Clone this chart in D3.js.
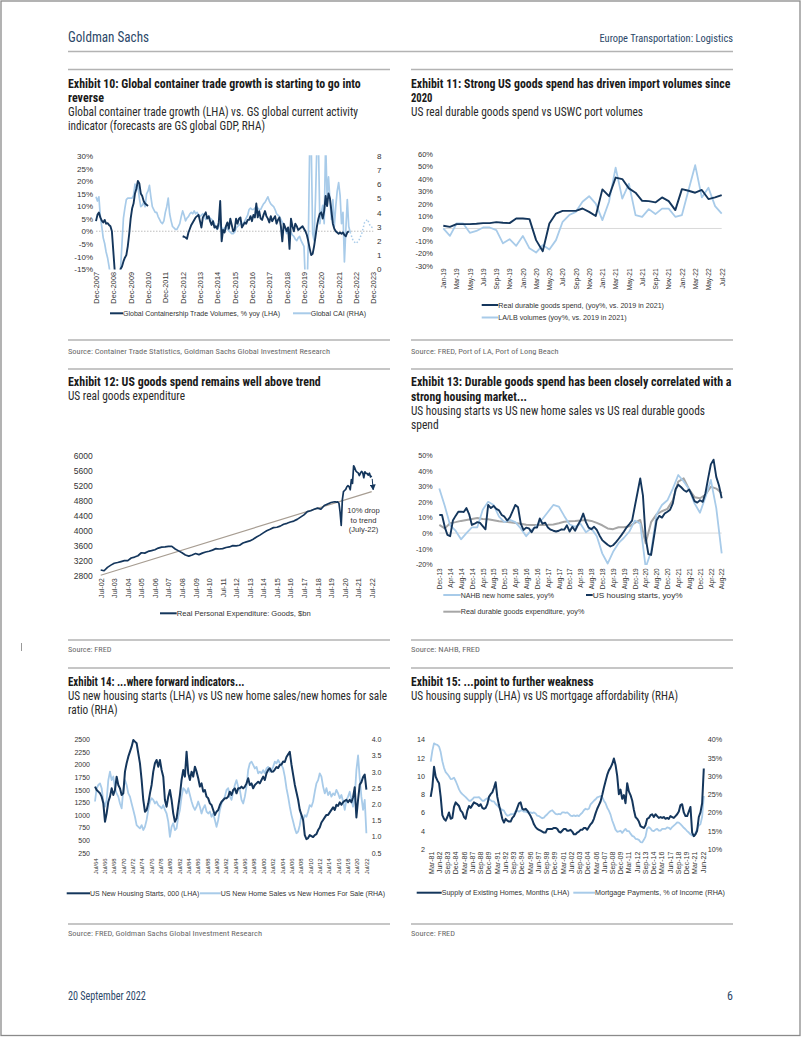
<!DOCTYPE html>
<html><head><meta charset="utf-8">
<script src="https://cdnjs.cloudflare.com/ajax/libs/d3/7.8.5/d3.min.js"></script>
<style>html,body{margin:0;padding:0;background:#fff;}svg{display:block;}</style>
</head><body>
<svg id="page" width="802" height="1037"></svg>
<script>
// ---------------- DATA ----------------
// Exhibit 10 (monthly from Dec-2007)
const c10Ticks = ["Dec-2007","Dec-2008","Dec-2009","Dec-2010","Dec-2011","Dec-2012","Dec-2013","Dec-2014","Dec-2015","Dec-2016","Dec-2017","Dec-2018","Dec-2019","Dec-2020","Dec-2021","Dec-2022","Dec-2023"];
const c10Start = "2007-12";
const c10Trade = [4.0,6.5,7.4,5.5,4.2,3.5,4.5,3.0,3.2,2.5,
 2.0,0,-8,-16,-22,-24,-20,-15,-14,-12,
 -10.5,-9.5,-6,-1,5,9,11,15,17,20,
 19,15,14,12,11,10.5,10,
 null,null,null,null,null,null,null,null,null,null,null,null,null,null,null,null,null,null,null,null,null,null,null,
 -2.0,-2.2,-2.5,-3.0,-0.5,1.0,2.5,3.5,4.5,5.5,
 6.0,6.5,4.0,1.5,5.5,6.5,7.5,5.0,6.0,4.0,
 2.5,4.0,1.5,2.0,1.0,3.5,12.0,-4.0,0.5,-0.5,
 2.0,3.5,1.0,5.0,2.5,0,0.5,5.0,3.0,5.0,
 5.5,1.5,2.5,3.5,3.0,4.5,4.5,6.0,4.0,6.5,
 5.5,11.0,5.5,8.0,5.0,4.5,6.5,8.0,6.0,5.0,
 3.5,6.0,4.0,5.0,6.0,3.0,4.5,5.5,2.0,-4.0,
 3.0,1.5,0,1.5,-7.0,5.0,2.0,0,3.0,2.0,
 0.5,1.0,1.5,2.0,1.0,0,-1.5,-4.0,-7.0,-9.5,
 -9.0,-6.0,-2.0,2.0,5.0,7.0,7.5,5.0,8.0,14.0,
 10.0,15.0,13.0,8.0,3.0,1.0,0,-0.5,-1.0,-0.5,
 -1.0,-0.5,-1.5,-2.0,-0.5,0.0];
const c10Cai = [5.1,4.8,5.1,3.7,3.0,2.2,1.8,1.2,0.8,0.2,
 -0.5,-1.5,-1.5,-1.5,-1.5,-1.5,-1.0,0.0,1.8,3.6,
 4.3,4.9,5.0,5.0,5.0,5.0,5.2,6.0,5.6,5.9,
 5.0,4.4,4.5,4.7,4.4,5.3,5.5,5.9,5.1,4.4,
 4.2,4.0,4.0,3.7,3.5,3.3,3.2,3.4,4.0,4.4,
 5.0,3.9,3.4,3.0,2.9,2.8,2.8,3.0,3.2,3.7,
 4.1,3.8,3.4,3.6,3.7,3.9,4.0,3.9,4.1,3.9,
 4.0,3.8,3.7,3.8,3.9,3.7,3.5,3.6,3.7,3.6,
 3.5,3.4,3.2,2.9,2.8,3.0,3.2,2.9,2.8,2.9,
 3.0,2.8,2.7,2.6,2.5,2.5,2.6,2.9,3.0,3.1,
 3.2,3.2,3.2,3.4,3.6,3.8,4.2,4.3,4.2,4.2,
 4.3,4.4,4.3,4.2,4.2,4.4,4.6,4.7,4.9,5.1,
 4.8,4.6,4.5,4.4,4.2,3.9,3.8,3.7,3.5,3.3,
 3.1,2.8,2.5,2.7,2.8,2.6,2.4,2.3,2.1,2.0,
 2.2,2.3,2.0,1.8,1.6,-1.0,-2.0,2.0,9.0,9.0,
 2.5,2.0,5.0,9.0,9.0,3.2,4.0,4.5,3.2,9.0,
 5.1,6.5,4.8,3.5,4.9,3.0,4.4,5.5,6.1,5.2,
 3.2,4.0,0.5,2.8,4.9,3.0,2.6];
const c10ForecastStart = "2022-08"; // every 2 months (GS global GDP forecast)
const c10Forecast = [2.6,2.0,1.8,2.0,2.5,3.3,3.5,3.0,2.9];

// Exhibit 11 (monthly from Jan-19)
const c11Ticks = ["Jan-19","Mar-19","May-19","Jul-19","Sep-19","Nov-19","Jan-20","Mar-20","May-20","Jul-20","Sep-20","Nov-20","Jan-21","Mar-21","May-21","Jul-21","Sep-21","Nov-21","Jan-22","Mar-22","May-22","Jul-22"];
const c11Start = "2019-01";
const c11Durable = [2.2,1.3,3.5,3.5,3.5,3.8,4.3,4.3,5.1,4.6,4.3,8,8,7.5,-9.4,-18.3,4,12,14.2,14.2,14.2,16.1,13.4,10,31.5,26,41,39.8,32.3,28.8,22.3,22,21,25,22,14.8,31.7,30.4,28.8,31,23.7,25,26.9];
const c11Ports = [0,-6,4,4,-3.5,-2,0.8,0.8,-1.3,-12,-8.6,-14,-6,-16,-19.4,-13.4,-17,-9.4,5.4,10.8,13.4,21.5,26,20,6.7,21.5,49,24,36,10.8,9.4,15.6,11.6,16,16,9.4,10.8,31,51,25,32.8,18,12];

// Exhibit 12 (quarterly from Jul-02, then monthly from Oct-19)
const c12Ticks = ["Jul-02","Jul-03","Jul-04","Jul-05","Jul-06","Jul-07","Jul-08","Jul-09","Jul-10","Jul-11","Jul-12","Jul-13","Jul-14","Jul-15","Jul-16","Jul-17","Jul-18","Jul-19","Jul-20","Jul-21","Jul-22"];
const c12QStart = "2002-07";
const c12Quarterly = [2960,2940,3030,3090,3140,3160,3185,3210,3210,3280,
 3305,3340,3420,3410,3455,3475,3500,3545,3570,3575,
 3590,3590,3520,3470,3420,3360,3330,3360,3400,3370,
 3410,3440,3460,3490,3530,3520,3530,3560,3575,3610,
 3605,3620,3680,3710,3735,3780,3840,3890,3950,4005,
 4045,4090,4100,4130,4180,4205,4240,4265,4310,4370,
 4430,4515,4540,4580,4610,4580,4680,4720,4760];
const c12MStart = "2019-10";
const c12Monthly = [4780,4775,4770,4775,4740,4500,4150,4830,5050,5080,5110,5180,5210,5180,5100,5370,5270,5740,5680,5600,5570,5550,5480,5540,5590,5560,5420,5580,5540,5530,5490,5540,5440,5470];
const c12TrendDates = ["2002-07","2022-07"];
const c12TrendVals = [2820,5050];
const c12ArrowVals = [5390,5100];
const c12Note = ["10% drop","to trend","(July-22)"];

// Exhibit 13 (from Dec-13; starts monthly, others every 2 months)
const c13Ticks = ["Dec-13","Apr-14","Aug-14","Dec-14","Apr-15","Aug-15","Dec-15","Apr-16","Aug-16","Dec-16","Apr-17","Aug-17","Dec-17","Apr-18","Aug-18","Dec-18","Apr-19","Aug-19","Dec-19","Apr-20","Aug-20","Dec-20","Apr-21","Aug-21","Dec-21","Apr-22","Aug-22"];
const c13Start = "2013-12";
const c13Starts = [11.6,11.6,4,-1.2,-2,8,11,13.7,13.7,13.5,
 16,12,5.2,6,7,6.5,4.5,2.4,18,16,
 17.4,15.5,14.5,11.6,10.5,8,10,14,18,16.5,
 6,2,3.5,3,0.5,3.5,3.5,9.4,6,6.7,
 3.5,2.2,1.5,1,1.5,2.4,2.2,5,1,4,
 1.5,5,8,12.5,7,3.5,2.5,4,2,-1.5,
 -4.5,-6,-7.5,-8.6,-7.8,-6,-3.8,-1.5,1,3.7,
 5.8,8,17,26,35,24,-3,-13.5,-14,-3,
 8,11,9.9,12.5,13.7,15,19,28,31,29.5,
 27.6,26.5,27.9,24.5,20.5,19.5,21,20,25.5,35,
 44,47,36,30.5,22.3];
const c13Sales = [28.6,17.5,5,1.5,-4,0,3.7,3.7,15,20,
 18,10.5,7,8.4,7,3,-2,2,5,9,
 13.5,18,17,11,5.5,4,6,0.5,3,-2,
 -13,-19.5,-12,-6.5,-3,1,8,6,-22,-12,
 12,18,21,28.5,37.2,33,28,19,13,23,
 34,16,-13];
const c13Durable = [5.2,3,6.3,7,7.8,8.4,9,9.7,9,8.8,
 8.2,7.6,7.2,6.9,6.4,6,5.3,5.2,5.2,5.2,
 5.3,5.5,6.3,7.2,7.5,7.7,8,8.3,7.8,6.5,
 5,3,2.5,3.7,3.7,4.3,6.5,8.4,-6.5,7,
 12,14,15.5,21,33,35,28,23,22.3,24.5,
 29.7,28.5,25.5];

// Exhibit 14 (evenly sampled Jul-64 .. Aug-22)
const c14Ticks = ["Jul/64","Jul/66","Jul/68","Jul/70","Jul/72","Jul/74","Jul/76","Jul/78","Jul/80","Jul/82","Jul/84","Jul/86","Jul/88","Jul/90","Jul/92","Jul/94","Jul/96","Jul/98","Jul/00","Jul/02","Jul/04","Jul/06","Jul/08","Jul/10","Jul/12","Jul/14","Jul/16","Jul/18","Jul/20","Jul/22"];
const c14Period = ["1964-07","2022-08"];
const c14Starts = [1560,1494,1461,1428,1362,1229,865,1031,1262,1362,
 1527,1395,1494,1759,1594,1527,1395,1428,1858,2024,
 2156,2255,2354,2487,2454,2421,2222,2024,1693,1296,
 1064,1097,1229,1428,1594,1858,2024,2090,1957,2090,
 1891,1759,1296,1163,1362,1494,1296,1031,865,932,
 1163,1395,1693,1891,1759,2255,1825,1693,1858,1759,
 1957,1858,1726,1560,1626,1461,1494,1362,1329,1229,
 1196,1097,998,1064,1097,1196,1262,1296,1329,1329,
 1362,1461,1395,1494,1527,1428,1527,1527,1560,1527,
 1560,1626,1726,1594,1626,1527,1594,1626,1659,1626,
 1693,1759,1693,1825,1891,1924,1858,1860,1900,1950,
 1930,1990,2000,2060,2050,2150,2200,2250,2000,1800,
 1600,1450,1300,1100,1000,900,600,520,540,600,
 580,560,600,620,700,750,850,900,950,1000,
 1000,1050,1100,1150,1100,1200,1180,1250,1200,1250,
 1280,1300,1250,1300,1250,1350,1550,950,1300,1600,
 1650,1750,1800,1500];
const c14Ratio = [2.08,2.49,2.59,2.64,2.49,2.08,1.92,2.13,2.74,3.0,
 2.74,2.85,2.49,2.33,2.23,2.02,1.87,2.44,2.74,2.59,
 2.33,2.23,2.02,1.82,1.61,1.35,1.30,1.25,1.35,1.2,
 1.3,1.51,1.82,2.08,2.18,2.13,2.02,2.08,1.97,1.92,
 1.87,1.97,1.82,1.71,1.46,0.99,1.3,1.41,1.2,1.25,
 1.61,1.82,2.23,2.49,2.44,2.33,2.49,2.28,2.08,1.92,
 1.82,1.92,2.08,1.92,1.71,1.87,1.97,1.77,1.71,1.77,
 1.61,1.71,1.51,1.3,1.51,1.82,2.02,2.13,2.23,2.44,
 2.49,2.23,2.13,2.38,2.59,2.74,2.54,2.44,2.13,2.02,
 2.23,2.54,3.05,3.26,3.31,3.21,3.1,3.15,2.95,3.0,
 2.95,3.05,2.95,3.1,3.15,3.0,3.05,3.15,3.31,3.26,
 3.36,3.26,3.21,3.1,2.85,2.49,2.23,1.92,1.66,1.46,
 1.25,1.1,1.15,1.35,1.66,1.51,1.66,1.61,1.77,1.97,
 1.92,2.08,2.38,2.64,2.74,2.95,2.85,2.54,2.33,2.49,
 2.28,2.38,2.23,2.33,2.28,2.44,2.33,2.18,2.28,2.08,
 1.82,2.13,2.23,2.38,2.13,1.92,2.23,3.05,3.5,2.8,
 2.23,1.82,2.13,1.1];

// Exhibit 15 (evenly sampled Mar-81 .. Aug-22)
const c15Ticks = ["Mar-81","Jun-82","Sep-83","Dec-84","Mar-86","Jun-87","Sep-88","Dec-89","Mar-91","Jun-92","Sep-93","Dec-94","Mar-96","Jun-97","Sep-98","Dec-99","Mar-01","Jun-02","Sep-03","Dec-04","Mar-06","Jun-07","Sep-08","Dec-09","Mar-11","Jun-12","Sep-13","Dec-14","Mar-16","Jun-17","Sep-18","Dec-19","Mar-21","Jun-22"];
const c15Period = ["1981-03","2022-08"];
const c15Supply = [7.7,8.8,11.0,9.9,9.5,9.2,7.7,5.7,5.3,5.1,
 5.5,6.0,5.3,5.4,6.6,7.1,6.9,6.7,6.2,6.0,
 5.5,5.3,6.2,6.7,6.5,6.8,7.1,7.0,6.9,6.7,
 6.9,6.5,6.4,6.5,6.9,7.7,8.0,8.2,8.7,9.3,
 7.7,6.8,6.1,5.3,4.9,5.3,5.1,5.0,5.0,5.4,
 5.6,6.0,6.5,7.0,7.1,6.4,6.3,6.4,6.2,5.9,
 5.6,5.2,4.7,4.4,4.2,4.1,4.0,3.9,3.8,3.8,
 4.2,4.2,4.2,4.2,4.3,4.3,4.2,3.9,3.8,4.0,
 4.2,4.2,4.0,4.0,4.1,3.9,3.6,3.6,3.8,3.9,
 4.1,4.1,4.3,4.3,4.1,4.4,4.7,4.9,5.3,5.9,
 6.4,6.8,7.2,7.9,8.7,9.4,10.1,10.6,10.9,11.3,
 11.9,11.2,10.0,8.0,8.5,7.5,7.9,7.0,9.2,8.3,
 7.9,7.3,6.3,5.5,5.3,5.0,4.5,4.4,4.3,4.6,
 5.3,5.4,5.7,5.8,5.5,5.8,5.6,5.4,5.5,5.4,
 5.5,5.3,5.4,5.3,5.6,5.5,5.4,5.6,5.8,6.1,
 6.8,6.9,6.0,5.6,5.6,6.1,6.6,3.8,3.4,3.6,
 4.0,5.5,6.0,7.0,10.8];
const c15Mortgage = [33.9,36.9,38.9,38.6,38.5,38.0,36.5,34.0,32.2,31.0,
 30.5,29.9,29.1,29.2,29.5,28.6,27.5,26.3,25.5,25.0,
 24.6,24.2,23.7,23.2,23.2,23.6,24.1,24.1,24.1,24.2,
 23.7,23.2,23.2,23.6,23.9,23.7,23.3,23.0,23.0,22.3,
 21.9,21.4,21.0,20.7,20.5,19.6,19.1,19.2,19.5,19.5,
 19.6,20.3,20.5,20.2,20.5,20.6,20.2,20.2,20.0,20.0,
 20.0,19.8,20.0,19.7,19.1,19.0,18.7,18.4,18.6,19.1,
 19.5,20.0,20.4,20.6,20.1,19.6,19.5,19.6,19.5,20.0,
 20.0,19.9,20.0,19.6,19.1,19.0,19.2,19.0,19.2,19.0,
 19.5,19.9,20.6,21.0,20.8,21.0,22.2,22.7,23.2,23.6,
 24.1,24.3,24.5,24.2,23.2,22.5,21.3,20.5,19.4,17.8,
 16.6,15.3,14.7,14.8,15.0,14.4,15.0,15.5,14.9,14.9,
 14.2,13.6,13.4,12.8,12.7,12.5,11.9,11.8,12.5,13.4,
 15.6,16.0,15.6,15.0,14.9,15.3,15.5,15.0,15.0,15.5,
 15.5,15.5,15.9,15.8,15.4,16.0,16.4,16.8,17.3,17.2,
 16.8,16.3,15.8,15.4,14.9,14.5,14.0,13.7,13.6,14.5,
 15.5,16.4,16.8,18.8,24.5];

// ---------------- HELPERS ----------------
const NARROW = "'Liberation Sans Narrow','Arial Narrow','Roboto Condensed','DejaVu Sans Condensed',sans-serif";
const SANS = "'Liberation Sans',Arial,sans-serif";
const DARK = "#14365c", LIGHT = "#a8cbe9", GRAY = "#a6a6a6", TREND = "#a79d92", HDR = "#2c4869", AXC = "#333", RULE = "#b3b3b3";
const MON = ["Jan","Feb","Mar","Apr","May","Jun","Jul","Aug","Sep","Oct","Nov","Dec"];
const svg = d3.select("#page");
const defs = svg.append("defs");

const ym = s => { const [y, m] = s.split("-").map(Number); return y + (m - 1) / 12; };
const labT = s => { const [m, y] = s.split(/[-\/]/); let yr = +y; if (y.length === 2) yr = yr > 30 ? 1900 + yr : 2000 + yr; return yr + MON.indexOf(m) / 12; };
const monthly = (start, n, step = 1) => d3.range(n).map(i => ym(start) + i * step / 12);
const even = (period, n) => { const a = ym(period[0]), b = ym(period[1]); return d3.range(n).map(i => a + i * (b - a) / (n - 1)); };

function T(x, y, s, o = {}) {
  const t = svg.append("text").attr("x", x).attr("y", y).text(s)
    .attr("font-family", o.ff || NARROW).attr("font-size", o.fs || 12)
    .attr("fill", o.fill || "#1c1c1c").attr("font-weight", o.fw || "normal");
  if (o.anchor) t.attr("text-anchor", o.anchor);
  if (o.w) t.attr("textLength", o.w).attr("lengthAdjust", "spacingAndGlyphs");
  return t;
}
function rule(x1, x2, y) {
  svg.append("line").attr("x1", x1).attr("x2", x2).attr("y1", y).attr("y2", y).attr("stroke", RULE).attr("stroke-width", 1.5);
}
function clip(id, x0, y0, x1, y1) {
  defs.append("clipPath").attr("id", id).append("rect").attr("x", x0).attr("y", y0).attr("width", x1 - x0).attr("height", y1 - y0);
}
function yAxis(scale, x, ticks, fmt, side, fs) {
  const ax = (side === "left" ? d3.axisLeft(scale) : d3.axisRight(scale)).tickValues(ticks).tickFormat(fmt).tickSize(0).tickPadding(0);
  const g = svg.append("g").attr("transform", `translate(${x},0)`).call(ax);
  g.select(".domain").remove();
  g.selectAll("text").attr("font-family", SANS).attr("font-size", fs).attr("fill", AXC).attr("dy", "0.34em");
}
function xLabels(scale, labels, top, fs) {
  const vals = labels.map(labT);
  const ax = d3.axisBottom(scale).tickValues(vals).tickFormat((d, i) => labels[i]).tickSize(0).tickPadding(0);
  const g = svg.append("g").attr("transform", `translate(0,${top})`).call(ax);
  g.select(".domain").remove();
  g.selectAll("text").attr("transform", "rotate(-90)").attr("text-anchor", "end").attr("x", 0).attr("y", 0).attr("dy", "0.35em")
    .attr("font-family", SANS).attr("font-size", fs).attr("fill", AXC);
}
function plot(xs, vs, xS, yS, color, w, clipId, dash) {
  const data = xs.map((x, i) => ({ x, v: vs[i] }));
  const p = svg.append("path").datum(data).attr("fill", "none").attr("stroke", color).attr("stroke-width", w)
    .attr("stroke-linejoin", "round").attr("stroke-linecap", "butt")
    .attr("d", d3.line().defined(d => d.v != null).x(d => xS(d.x)).y(d => yS(d.v)));
  if (clipId) p.attr("clip-path", `url(#${clipId})`);
  if (dash) p.attr("stroke-dasharray", dash);
}
function hline(xS, yS, v, color, dash) {
  const [a, b] = xS.range();
  const l = svg.append("line").attr("x1", a).attr("x2", b).attr("y1", yS(v)).attr("y2", yS(v)).attr("stroke", color).attr("stroke-width", 1);
  if (dash) l.attr("stroke-dasharray", dash);
}
function legend(x0, x1, y, color, label, w, fs = 7.5) {
  svg.append("line").attr("x1", x0).attr("x2", x1).attr("y1", y).attr("y2", y).attr("stroke", color).attr("stroke-width", 2);
  T(x1, y + fs * 0.35, label, { ff: SANS, fs, fill: "#333", w });
}

// ---------------- PAGE ----------------
svg.append("rect").attr("x", 1).attr("y", 1).attr("width", 799).attr("height", 1034.5).attr("fill", "none").attr("stroke", "#8a8a8a").attr("stroke-width", 1.3);
T(68, 41.6, "Goldman Sachs", { fs: 14.5, fill: HDR, w: 81 });
T(733, 42, "Europe Transportation: Logistics", { fs: 11, fill: HDR, anchor: "end", w: 133.5 });
rule(68, 733, 51.5);
[69.5, 340, 369, 640, 668, 924].forEach(y => { rule(68, 390, y); rule(411, 733, y); });
svg.append("line").attr("x1", 21.5).attr("x2", 21.5).attr("y1", 643).attr("y2", 651).attr("stroke", "#999").attr("stroke-width", 1);

const TB = { fs: 12.5, fw: "bold", fill: "#1a1a1a" }, ST = { fs: 12, fill: "#2a2a2a" }, SR = { fs: 7.8, fill: "#6a6a6a" };
T(68, 88.3, "Exhibit 10: Global container trade growth is starting to go into", { ...TB, w: 292.6 });
T(68, 102.3, "reverse", { ...TB, w: 36 });
T(68, 115.8, "Global container trade growth (LHA) vs. GS global current activity", { ...ST, w: 290 });
T(68, 130, "indicator (forecasts are GS global GDP, RHA)", { ...ST, w: 197 });
T(411, 88.3, "Exhibit 11: Strong US goods spend has driven import volumes since", { ...TB, w: 319.3 });
T(411, 102.3, "2020", { ...TB, w: 21.5 });
T(411, 115.8, "US real durable goods spend vs USWC port volumes", { ...ST, w: 232 });
T(68, 353.5, "Source: Container Trade Statistics, Goldman Sachs Global Investment Research", { ...SR, w: 262 });
T(411, 353.5, "Source: FRED, Port of LA, Port of Long Beach", { ...SR, w: 147.6 });
T(68, 386.3, "Exhibit 12: US goods spend remains well above trend", { ...TB, w: 252.7 });
T(68, 400, "US real goods expenditure", { ...ST, w: 117 });
T(411, 386.3, "Exhibit 13: Durable goods spend has been closely correlated with a", { ...TB, w: 320.5 });
T(411, 400.6, "strong housing market...", { ...TB, w: 116 });
T(411, 415.2, "US housing starts vs US new home sales vs US real durable goods", { ...ST, w: 294 });
T(411, 428.8, "spend", { ...ST, w: 27.6 });
T(68, 651.8, "Source: FRED", { ...SR, w: 43.5 });
T(411, 651.8, "Source: NAHB, FRED", { ...SR, w: 69 });
T(68, 686.3, "Exhibit 14: ...where forward indicators...", { ...TB, w: 176.5 });
T(68, 700.2, "US new housing starts (LHA) vs US new home sales/new homes for sale", { ...ST, w: 319 });
T(68, 713.8, "ratio (RHA)", { ...ST, w: 49.6 });
T(411, 686.3, "Exhibit 15: ...point to further weakness", { ...TB, w: 182.6 });
T(411, 700.2, "US housing supply (LHA) vs US mortgage affordability (RHA)", { ...ST, w: 267 });
T(68, 935.8, "Source: FRED, Goldman Sachs Global Investment Research", { ...SR, w: 194 });
T(411, 935.8, "Source: FRED", { ...SR, w: 44 });
T(68, 1000.3, "20 September 2022", { fs: 12, fill: HDR, w: 77.8 });
T(733, 1000.3, "6", { fs: 12, fill: HDR, anchor: "end" });

// ---------------- EXHIBIT 10 ----------------
{
  const x = d3.scaleLinear().domain([labT("Dec-2007"), labT("Dec-2023")]).range([96, 373.3]);
  const yL = d3.scaleLinear().domain([-15, 30]).range([269, 155.7]);
  const yR = d3.scaleLinear().domain([0, 8]).range([269, 155.7]);
  clip("c10", 90, 155.2, 380, 269.5);
  hline(x, yL, 0, "#bdbdbd", "1.5,1.5");
  yAxis(yL, 93, d3.range(-15, 31, 5), d => d + "%", "left", 8);
  yAxis(yR, 377, d3.range(0, 9, 1), d3.format("d"), "right", 8);
  plot(monthly(c10Start, c10Cai.length), c10Cai, x, yR, LIGHT, 1.7, "c10");
  const fx = monthly(c10ForecastStart, c10Forecast.length, 2);
  plot(fx, c10Forecast, x, yR, LIGHT, 1.5, "c10", "1.5,2");
  plot(monthly(c10Start, c10Trade.length), c10Trade, x, yL, DARK, 1.9, "c10");
  xLabels(x, c10Ticks, 272, 7.3);
  legend(110, 123, 313.3, DARK, "Global Containership Trade Volumes, % yoy (LHA)", 157);
  legend(293, 310.7, 313.3, LIGHT, "Global CAI (RHA)", 55.3);
}
// ---------------- EXHIBIT 11 ----------------
{
  const x = d3.scaleLinear().domain([ym("2019-01"), ym("2022-07")]).range([443.3, 721.7]);
  const y = d3.scaleLinear().domain([-30, 60]).range([265.7, 154]);
  hline(x, y, 0, "#d9d9d9");
  yAxis(y, 433, d3.range(-30, 61, 10), d => d + "%", "left", 7.5);
  plot(monthly(c11Start, c11Ports.length), c11Ports, x, y, LIGHT, 1.8);
  plot(monthly(c11Start, c11Durable.length), c11Durable, x, y, DARK, 1.9);
  xLabels(x, c11Ticks, 268.3, 6.6);
  legend(481.7, 498.3, 305, DARK, "Real durable goods spend, (yoy%, vs. 2019 in 2021)", 165.7);
  legend(481.7, 498.3, 317.5, LIGHT, "LA/LB volumes (yoy%, vs. 2019 in 2021)", 128.3);
}
// ---------------- EXHIBIT 12 ----------------
{
  const x = d3.scaleLinear().domain([labT("Jul-02"), labT("Jul-22")]).range([100.7, 371.7]);
  const y = d3.scaleLinear().domain([2800, 6000]).range([576, 456]);
  yAxis(y, 92.7, d3.range(2800, 6001, 400), d3.format("d"), "left", 8.5);
  plot(c12TrendDates.map(ym), c12TrendVals, x, y, TREND, 1.2);
  const xs = monthly(c12QStart, c12Quarterly.length, 3).concat(monthly(c12MStart, c12Monthly.length));
  plot(xs, c12Quarterly.concat(c12Monthly), x, y, DARK, 1.7);
  defs.append("marker").attr("id", "arr").attr("viewBox", "0 0 8 8").attr("refX", 7).attr("refY", 4)
    .attr("markerWidth", 6).attr("markerHeight", 6).attr("orient", "auto")
    .append("path").attr("d", "M0,0 L8,4 L0,8 Z").attr("fill", DARK);
  const ax = x(ym("2022-07")) + 1;
  svg.append("line").attr("x1", ax - 0.5).attr("x2", ax + 0.5).attr("y1", y(c12ArrowVals[0])).attr("y2", y(c12ArrowVals[1]))
    .attr("stroke", DARK).attr("stroke-width", 1).attr("marker-end", "url(#arr)");
  c12Note.forEach((s, i) => T(363.5, 513.3 + i * 9.3, s, { ff: SANS, fs: 7.6, fill: "#333", anchor: "middle" }));
  xLabels(x, c12Ticks, 578.3, 7.2);
  legend(160, 176.7, 613.3, DARK, "Real Personal Expenditure: Goods, $bn", 134);
}
// ---------------- EXHIBIT 13 ----------------
{
  const x = d3.scaleLinear().domain([ym("2013-12"), ym("2022-08")]).range([439.3, 721.7]);
  const y = d3.scaleLinear().domain([-20, 50]).range([564.3, 455]);
  clip("c13", 436, 454, 726, 565);
  hline(x, y, 0, "#d9d9d9");
  yAxis(y, 432.7, d3.range(-20, 51, 10), d => d + "%", "left", 7.2);
  plot(monthly(c13Start, c13Durable.length, 2), c13Durable, x, y, GRAY, 2, "c13");
  plot(monthly(c13Start, c13Sales.length, 2), c13Sales, x, y, LIGHT, 1.8, "c13");
  plot(monthly(c13Start, c13Starts.length), c13Starts, x, y, DARK, 1.9, "c13");
  xLabels(x, c13Ticks, 568.3, 6.5);
  legend(443.3, 460.7, 595, LIGHT, "NAHB new home sales, yoy%", 93.3);
  legend(586, 592.7, 595, DARK, "US housing starts, yoy%", 90);
  legend(443.3, 460.7, 611.7, GRAY, "Real durable goods expenditure, yoy%", 123.7);
}
// ---------------- EXHIBIT 14 ----------------
{
  const x = d3.scaleLinear().domain([labT("Jul/64"), labT("Jul/22")]).range([95, 366]);
  const yL = d3.scaleLinear().domain([250, 2500]).range([852.7, 739.3]);
  const yR = d3.scaleLinear().domain([0.5, 4.0]).range([852.7, 739.3]);
  yAxis(yL, 90, d3.range(250, 2501, 250), d3.format("d"), "left", 7);
  yAxis(yR, 371.7, d3.range(0.5, 4.01, 0.5), d3.format(".1f"), "right", 7);
  plot(even(c14Period, c14Ratio.length), c14Ratio, x, yR, LIGHT, 1.8);
  plot(even(c14Period, c14Starts.length), c14Starts, x, yL, DARK, 2);
  xLabels(x, c14Ticks, 858.3, 6);
  legend(66.7, 90, 893.3, DARK, "US New Housing Starts, 000 (LHA)", 109.3);
  legend(200, 220.7, 893.3, LIGHT, "US New Home Sales vs New Homes For Sale (RHA)", 164.3);
}
// ---------------- EXHIBIT 15 ----------------
{
  const x = d3.scaleLinear().domain([labT("Mar-81"), labT("Jun-22")]).range([430.7, 702.7]);
  const yL = d3.scaleLinear().domain([2, 14]).range([849, 739.3]);
  const yR = d3.scaleLinear().domain([10, 40]).range([849, 739.3]);
  yAxis(yL, 425, d3.range(2, 15, 2), d3.format("d"), "left", 7.2);
  yAxis(yR, 707.7, d3.range(10, 41, 5), d => d + "%", "right", 7.2);
  plot(even(c15Period, c15Mortgage.length), c15Mortgage, x, yR, LIGHT, 1.8);
  plot(even(c15Period, c15Supply.length), c15Supply, x, yL, DARK, 2);
  xLabels(x, c15Ticks, 851.7, 7);
  legend(416.7, 441.7, 892.7, DARK, "Supply of Existing Homes, Months (LHA)", 127.7);
  legend(573.3, 595, 892.7, LIGHT, "Mortgage Payments, % of Income (RHA)", 130);
}
</script>
</body></html>
